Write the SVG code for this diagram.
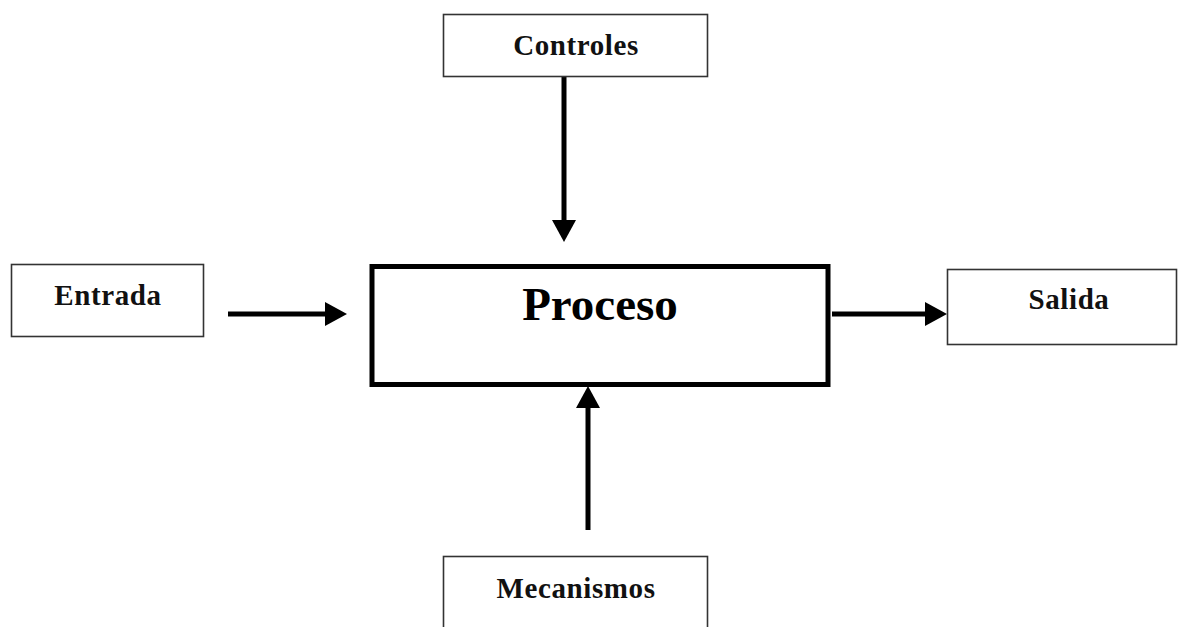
<svg xmlns="http://www.w3.org/2000/svg" width="1178" height="627" viewBox="0 0 1178 627">
<defs>
<style>
.box{fill:#fff;stroke:#333;stroke-width:1.6}
.main{fill:#fff;stroke:#000;stroke-width:5}
.lbl{font-family:"Liberation Serif","Times New Roman",serif;font-weight:bold;font-size:29px;letter-spacing:0.6px;fill:#111;text-anchor:middle}
.big{font-family:"Liberation Serif","Times New Roman",serif;font-weight:bold;font-size:47px;fill:#000;text-anchor:middle}
.arr{stroke:#000;stroke-width:5;fill:none;marker-end:url(#ah)}
</style>
<marker id="ah" markerUnits="userSpaceOnUse" viewBox="0 0 22 24" markerWidth="22" markerHeight="24" refX="2" refY="12" orient="auto">
<path d="M0,0 L22,12 L0,24 Z" fill="#000"/>
</marker>
</defs>
<rect width="1178" height="627" fill="#fff"/>
<g id="connectors">
<line class="arr" x1="564" y1="77" x2="564" y2="222"/>
<line class="arr" x1="228" y1="314" x2="327" y2="314"/>
<line class="arr" x1="832" y1="314" x2="927" y2="314"/>
<line class="arr" x1="588" y1="530" x2="588" y2="406"/>
</g>
<g id="controles">
<rect class="box" x="443.5" y="14.5" width="264" height="62"/>
<text class="lbl" x="576" y="55">Controles</text>
</g>
<g id="entrada">
<rect class="box" x="11.5" y="264.5" width="192" height="72"/>
<text class="lbl" x="108" y="305">Entrada</text>
</g>
<g id="proceso">
<rect class="main" x="372" y="266.5" width="456" height="118"/>
<text class="big" x="600" y="320">Proceso</text>
</g>
<g id="salida">
<rect class="box" x="947.5" y="269.5" width="229" height="75"/>
<text class="lbl" x="1069" y="309">Salida</text>
</g>
<g id="mecanismos">
<rect class="box" x="443.5" y="556.5" width="264" height="80"/>
<text class="lbl" x="576" y="598">Mecanismos</text>
</g>
</svg>
